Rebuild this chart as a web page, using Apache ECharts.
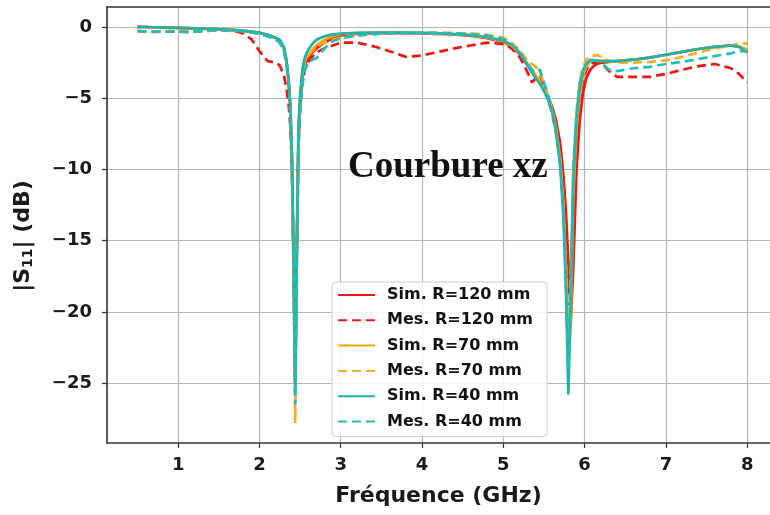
<!DOCTYPE html>
<html><head><meta charset="utf-8">
<script src="https://cdn.jsdelivr.net/npm/echarts@6/dist/echarts.min.js"></script>
<style>html,body{margin:0;padding:0;background:#fff}#c{width:770px;height:515px}</style>
</head><body><div id="c"></div>
<script>
// Frequency samples (GHz)
const freq = [0.5, 0.7, 0.9, 1.1, 1.3, 1.5, 1.7, 1.8, 1.9, 2.0,
  2.1, 2.2, 2.25, 2.3, 2.33, 2.36, 2.38, 2.4, 2.42, 2.44,
  2.46, 2.48, 2.5, 2.53, 2.56, 2.6, 2.65, 2.7, 2.8, 2.9,
  3.0, 3.2, 3.4, 3.6, 3.8, 4.0, 4.2, 4.4, 4.6, 4.8,
  5.0, 5.1, 5.2, 5.3, 5.35, 5.4, 5.45, 5.5, 5.55, 5.6,
  5.65, 5.7, 5.74, 5.77, 5.8, 5.83, 5.86, 5.9, 5.94, 5.98,
  6.02, 6.07, 6.12, 6.17, 6.22, 6.3, 6.4, 6.5, 6.6, 6.8,
  7.0, 7.2, 7.4, 7.6, 7.8, 7.9, 8.0];

const simR120 = [0, -0.02, -0.05, -0.08, -0.12, -0.16, -0.22, -0.27, -0.33, -0.42,
  -0.55, -0.78, -0.95, -1.5, -2.3, -3.9, -5.6, -9.5, -17, -24.5,
  -16, -8, -5.5, -3.5, -2.6, -2.2, -1.8, -1.5, -1.1, -0.8,
  -0.6, -0.48, -0.44, -0.43, -0.43, -0.45, -0.48, -0.53, -0.62, -0.78,
  -1.05, -1.35, -1.9, -2.7, -3.1, -3.5, -3.9, -4.4, -4.9, -5.6,
  -6.6, -8.2, -10.5, -13, -16.5, -20.5, -17, -10, -6.5, -4.6,
  -3.6, -3.0, -2.7, -2.55, -2.5, -2.45, -2.4, -2.35, -2.3, -2.15,
  -1.95, -1.75, -1.55, -1.4, -1.3, -1.4, -1.75];

const mesR120 = [-0.3, -0.35, -0.3, -0.35, -0.3, -0.22, -0.3, -0.45, -0.85, -1.7,
  -2.4, -2.5, -2.7, -3.4, -4.2, -5.5, -7, -10, -16, -25,
  -15, -8, -5.5, -3.8, -3.0, -2.5, -2.1, -1.8, -1.5, -1.3,
  -1.1, -1.1, -1.35, -1.7, -2.1, -2.0, -1.75, -1.5, -1.3, -1.1,
  -1.2, -1.5, -2.1, -3.2, -3.9, -3.6, -3.4, -4.2, -5.0, -6.0,
  -7.5, -9.5, -12.5, -16, -19.5, -18, -12, -7.5, -5.0, -3.8,
  -3.0, -2.6, -2.5, -2.5, -2.6, -3.1, -3.5, -3.5, -3.5, -3.5,
  -3.3, -3.0, -2.75, -2.6, -2.9, -3.3, -3.9];

const simR70 = [0, -0.02, -0.05, -0.08, -0.12, -0.16, -0.22, -0.27, -0.33, -0.42,
  -0.55, -0.78, -0.95, -1.5, -2.3, -3.9, -5.6, -9.2, -16, -25,
  -15.5, -7.5, -5, -3.0, -2.3, -2.0, -1.6, -1.3, -0.9, -0.65,
  -0.5, -0.44, -0.42, -0.42, -0.42, -0.44, -0.47, -0.52, -0.6, -0.75,
  -1.0, -1.3, -1.85, -2.6, -3.0, -3.4, -3.9, -4.4, -5.0, -5.8,
  -7.1, -9.3, -12.5, -17, -23, -21, -12, -7.2, -4.8, -3.4,
  -2.8, -2.4, -2.35, -2.35, -2.4, -2.4, -2.4, -2.35, -2.3, -2.15,
  -1.95, -1.75, -1.55, -1.4, -1.3, -1.35, -1.6];

const mesR70 = [-0.3, -0.32, -0.3, -0.33, -0.28, -0.22, -0.25, -0.3, -0.38, -0.5,
  -0.65, -0.9, -1.1, -1.7, -2.5, -4.0, -6.0, -10, -18, -27.8,
  -16, -8, -5, -3.2, -2.4, -2.0, -1.7, -1.4, -1.1, -0.9,
  -0.75, -0.6, -0.5, -0.45, -0.4, -0.4, -0.4, -0.42, -0.45, -0.55,
  -0.75, -1.1, -1.6, -2.4, -2.6, -2.8, -3.2, -4.0, -4.8, -5.8,
  -7.3, -9.5, -13, -17, -21.5, -17, -10, -6, -3.8, -2.8,
  -2.3, -2.05, -2.0, -2.0, -2.2, -2.4, -2.5, -2.5, -2.5, -2.45,
  -2.35, -2.1, -1.8, -1.5, -1.3, -1.15, -1.15];

const simR40 = [0, -0.02, -0.05, -0.08, -0.12, -0.16, -0.22, -0.27, -0.33, -0.42,
  -0.55, -0.75, -0.9, -1.4, -2.2, -3.8, -5.5, -9, -16, -25.8,
  -15, -7, -4.8, -2.9, -2.1, -1.6, -1.2, -0.9, -0.65, -0.52,
  -0.47, -0.42, -0.4, -0.4, -0.4, -0.42, -0.45, -0.5, -0.58, -0.72,
  -0.95, -1.25, -1.8, -2.7, -3.2, -3.6, -4.0, -4.5, -5.1, -6.0,
  -7.4, -9.8, -13.5, -18.5, -25.8, -19, -11, -6.5, -4.3, -3.1,
  -2.6, -2.3, -2.35, -2.4, -2.4, -2.4, -2.4, -2.35, -2.3, -2.15,
  -1.95, -1.75, -1.55, -1.4, -1.3, -1.4, -1.8];

const mesR40 = [-0.3, -0.33, -0.32, -0.35, -0.3, -0.22, -0.25, -0.3, -0.38, -0.5,
  -0.65, -0.9, -1.1, -1.7, -2.5, -4.0, -6.0, -10, -17, -26.5,
  -17, -9, -6, -4, -3, -2.5, -2.3, -2.2, -1.5, -1.0,
  -0.8, -0.6, -0.5, -0.45, -0.42, -0.42, -0.42, -0.45, -0.5, -0.6,
  -0.85, -1.2, -1.8, -2.6, -3.0, -3.2, -3.0, -3.9, -4.8, -5.8,
  -7.2, -9.5, -13, -18, -24, -18, -10, -6, -3.9, -3.0,
  -2.6, -2.4, -2.35, -2.4, -2.6, -3.0, -3.1, -3.0, -2.9, -2.8,
  -2.6, -2.45, -2.25, -2.05, -1.85, -1.7, -1.7];

const xTicks = [1, 2, 3, 4, 5, 6, 7, 8];
const yTicks = [0, -5, -10, -15, -20, -25];
const names = ['Sim. R=120 mm', 'Mes. R=120 mm', 'Sim. R=70 mm', 'Mes. R=70 mm', 'Sim. R=40 mm', 'Mes. R=40 mm'];
const values = [simR120, mesR120, simR70, mesR70, simR40, mesR40];
const colors = ['#f01414', '#f01414', '#ffa500', '#f7ad22', '#1fb2a8', '#22bdb8'];
const dashed = [false, true, false, true, false, true];

const chart = echarts.init(document.getElementById('c'));
const fmt = v => String(v).replace('-', '\u2212');
const series = names.map((n, k) => ({
  name: n, type: 'line', showSymbol: false, symbol: 'none', smooth: false,
  data: freq.map((f, i) => [f, values[k][i]]),
  lineStyle: { color: colors[k], width: 2.7, type: dashed[k] ? [9, 5] : 'solid' },
  itemStyle: { color: colors[k] },
  emphasis: { disabled: true }, animation: false, z: 2 + k
}));

chart.setOption({
  animation: false,
  backgroundColor: '#fff',
  grid: { left: 107, right: 0, top: 7, bottom: 72, containLabel: false },
  xAxis: [{
    type: 'value', min: 0.125, max: 8.28, position: 'bottom',
    axisLine: { onZero: false, lineStyle: { color: '#333', width: 1.6 } },
    axisTick: { show: true, customValues: xTicks, length: 5, lineStyle: { color: '#333', width: 1.2 } },
    axisLabel: { customValues: xTicks, formatter: fmt, fontSize: 18, fontWeight: 'bold', color: '#1a1a1a', fontFamily: 'DejaVu Sans', margin: 13 },
    splitLine: { show: true, lineStyle: { color: '#b5b5b5', width: 1.2 } },
    name: 'Fréquence (GHz)', nameLocation: 'middle', nameGap: 42,
    nameTextStyle: { fontSize: 22, fontWeight: 'bold', color: '#1a1a1a', fontFamily: 'DejaVu Sans' }
  }, {
    type: 'value', min: 0.125, max: 8.28, position: 'top',
    axisLine: { show: true, onZero: false, lineStyle: { color: '#333', width: 1.6 } },
    axisTick: { show: false }, axisLabel: { show: false }, splitLine: { show: false }
  }],
  yAxis: {
    type: 'value', min: -29.2, max: 1.4,
    axisLine: { show: true, onZero: false, lineStyle: { color: '#333', width: 1.6 } },
    axisTick: { show: true, customValues: yTicks, length: 5, lineStyle: { color: '#333', width: 1.2 } },
    axisLabel: { customValues: yTicks, formatter: fmt, fontSize: 18, fontWeight: 'bold', color: '#1a1a1a', fontFamily: 'DejaVu Sans', margin: 15 },
    splitLine: { show: true, lineStyle: { color: '#b5b5b5', width: 1.2 } },
    name: '|S{s|11}| (dB)', nameLocation: 'middle', nameGap: 72, nameRotate: 90,
    nameTextStyle: { fontSize: 22, fontWeight: 'bold', color: '#1a1a1a', fontFamily: 'DejaVu Sans', padding: [0, 22, 0, 0],
      rich: { s: { fontSize: 14, fontWeight: 'bold', color: '#1a1a1a', fontFamily: 'DejaVu Sans', verticalAlign: 'bottom', padding: [10, 0, 0, 0] } } }
  },
  legend: {
    orient: 'vertical', left: 332, top: 282,
    data: names,
    itemWidth: 37, itemHeight: 14, itemGap: 7.3,
    padding: [4, 14, 6, 5],
    itemStyle: { opacity: 0, borderWidth: 0 },
    backgroundColor: 'rgba(255,255,255,0.85)', borderColor: '#cccccc', borderWidth: 1, borderRadius: 4,
    textStyle: { fontSize: 16, fontWeight: 'bold', color: '#111', fontFamily: 'DejaVu Sans', lineHeight: 18, padding: [0, 0, 0, 7] },
    selectedMode: false
  },
  graphic: [{
    type: 'text', left: 348, top: 149,
    style: { text: 'Courbure xz', font: 'bold 37px "Liberation Serif"', fill: '#111' }, z: 100
  }],
  series: series
});
</script></body></html>
